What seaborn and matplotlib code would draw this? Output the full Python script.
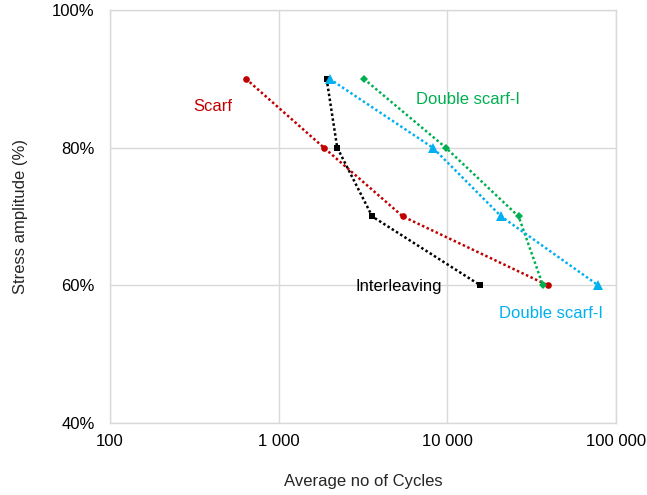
import matplotlib
matplotlib.use("Agg")
import matplotlib.pyplot as plt
import matplotlib.ticker as mticker
import numpy as np
import pandas as pd
import seaborn as sns

# Fatigue data: stress amplitude (% of static strength) vs average cycles to failure
stress_levels = [90, 80, 70, 60]
cycles_scarf = [640, 1855, 5450, 39500]
cycles_interleaving = [1925, 2225, 3590, 15700]
cycles_double_scarf_green = [3200, 9800, 26500, 36900]
cycles_double_scarf_blue = [2005, 8200, 20900, 78500]

series_names = ["Scarf", "Interleaving", "Double scarf-I (a)", "Double scarf-I (b)"]
series_cycles = [cycles_scarf, cycles_interleaving,
                 cycles_double_scarf_green, cycles_double_scarf_blue]
series_colors = ["#C00000", "#000000", "#00B050", "#00B0F0"]
series_markers = ["o", "s", "D", "^"]
series_msize = [4.8, 4.8, 4.5, 6.5]

x_ticks = [100, 1000, 10000, 100000]
x_tick_labels = ["100", "1 000", "10 000", "100 000"]
y_ticks = [40, 60, 80, 100]

rows = []
for name, cyc in zip(series_names, series_cycles):
    for c, s in zip(cyc, stress_levels):
        rows.append({"series": name, "cycles": c, "stress": s})
df = pd.DataFrame(rows)

sns.set_theme(style="white")
plt.rcParams["font.family"] = ["Liberation Sans", "DejaVu Sans"]

fig = plt.figure(figsize=(6.47, 4.95), dpi=100)
ax = fig.add_axes([0.170, 0.1455, 0.782, 0.8343])

for name, color, mk, ms in zip(series_names, series_colors, series_markers, series_msize):
    sub = df[df["series"] == name]
    sns.lineplot(data=sub, x="cycles", y="stress", sort=False, ax=ax,
                 color=color, linewidth=1.8, linestyle=(0, (1, 1)),
                 marker=mk, markersize=ms, markeredgewidth=0,
                 markerfacecolor=color, zorder=3)

ax.set_xscale("log")
ax.set_xlim(100, 100000)
ax.set_ylim(40, 100)
ax.set_xticks(x_ticks)
ax.set_xticklabels(x_tick_labels)
ax.xaxis.set_minor_locator(mticker.NullLocator())
ax.set_yticks(y_ticks)
ax.yaxis.set_major_formatter(mticker.FuncFormatter(lambda v, p: f"{v:.0f}%"))

ax.grid(True, color="#D9D9D9", linewidth=1.0)
for sp in ax.spines.values():
    sp.set_color("#D9D9D9")
    sp.set_linewidth(1.0)
ax.tick_params(axis="both", length=0, labelsize=12, colors="#000000")
ax.tick_params(axis="x", pad=8)
ax.tick_params(axis="y", pad=11)

ax.set_xlabel("Average no of Cycles", fontsize=12, labelpad=18)
ax.set_ylabel("Stress amplitude (%)", fontsize=12, labelpad=17)

ax.text(408, 85.95, "Scarf", color="#C00000", fontsize=12, ha="center", va="center")
ax.text(5140, 59.8, "Interleaving", color="#000000", fontsize=12, ha="center", va="center")
ax.text(13200, 87.0, "Double scarf-I", color="#00B050", fontsize=12, ha="center", va="center")
ax.text(41100, 55.95, "Double scarf-I", color="#00B0F0", fontsize=12, ha="center", va="center")

fig.savefig("out.png", dpi=100)
